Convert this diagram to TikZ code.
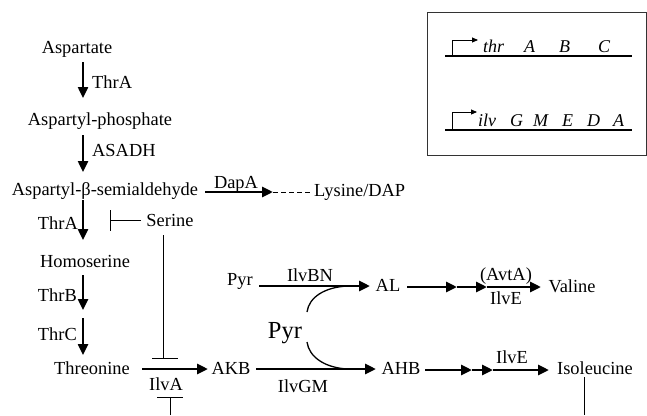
\documentclass[tikz,border=0pt]{standalone}
\usepackage{fontspec}
\setmainfont{Liberation Serif}
\usetikzlibrary{arrows.meta}
\begin{document}
\begin{tikzpicture}[x=1pt,y=-1pt,
  txt/.style={inner sep=0pt, font=\fontsize{18.4}{22}\selectfont, anchor=base},
  gene/.style={inner sep=0pt, font=\fontsize{18}{22}\selectfont\itshape, anchor=base west},
  bigtxt/.style={inner sep=0pt, font=\fontsize{24.5}{28}\selectfont, anchor=base},
  varrow/.style={line width=2.4pt, -{Triangle[length=11pt,width=10pt]}},
  harrow/.style={line width=2.8pt, -{Triangle[length=11pt,width=10pt]}},
  inhib/.style={line width=0.9pt},
  dna/.style={line width=2.6pt},
  prom/.style={line width=0.9pt, -{Triangle[length=6pt,width=5pt]}},
  curve/.style={line width=1.3pt}]
\useasboundingbox (0,0) rectangle (647,415);

% main pathway text
\node[txt] (asp) at (77,53) {Aspartate};
\node[txt] (asph) at (100,125) {Aspartyl-phosphate};
\node[txt] (asa) at (105,195) {Aspartyl-β-semialdehyde};
\node[txt] (hom) at (85,267) {Homoserine};
\node[txt] (thr) at (92,374) {Threonine};
\node[txt] (ser) at (170,226) {Serine};
\node[txt] (akb) at (231,374) {AKB};
\node[txt] (pyr1) at (240,285) {Pyr};
\node[txt] (al) at (388,291) {AL};
\node[bigtxt] (pyr2) at (285,338) {Pyr};
\node[txt] (ahb) at (401,374) {AHB};
\node[txt] (val) at (572,292) {Valine};
\node[txt] (ile) at (595,374) {Isoleucine};
\node[txt, anchor=base west] (lys) at (314,196) {Lysine/DAP};

% enzyme labels
\node[txt, anchor=base west] (e1) at (92,88) {ThrA};
\node[txt, anchor=base west] (e2) at (92,156) {ASADH};
\node[txt, anchor=base east] (e3) at (78,229) {ThrA};
\node[txt, anchor=base east] (e4) at (77,301) {ThrB};
\node[txt, anchor=base east] (e5) at (77,340) {ThrC};
\node[txt] (dapa) at (236,188) {DapA};
\node[txt] (ilva) at (166,390) {IlvA};
\node[txt] (ilvbn) at (310,281) {IlvBN};
\node[txt] (ilvgm) at (303,392) {IlvGM};
\node[txt] (avta) at (506,280) {(AvtA)};
\node[txt] (ilve1) at (506,304) {IlvE};
\node[txt] (ilve2) at (512,363) {IlvE};

% connector end points
\coordinate (v1a) at (83,62);  \coordinate (v1b) at (83,98);
\coordinate (v2a) at (83,135); \coordinate (v2b) at (83,172);
\coordinate (v3a) at (83,200); \coordinate (v3b) at (83,240);
\coordinate (v4a) at (83,275); \coordinate (v4b) at (83,310);
\coordinate (v5a) at (83,318); \coordinate (v5b) at (83,355);

\draw[varrow] (v1a) -- (v1b);
\draw[varrow] (v2a) -- (v2b);
\draw[varrow] (v3a) -- (v3b);
\draw[varrow] (v4a) -- (v4b);
\draw[varrow] (v5a) -- (v5b);

% DapA
\coordinate (d1) at (205,192); \coordinate (d2) at (273,192); \coordinate (d3) at (312,192);
\draw[harrow] (d1) -- (d2);
\draw[line width=1pt, dash pattern=on 5pt off 3pt] (d2) -- (d3);

% Threonine -> AKB
\coordinate (t1) at (142,369); \coordinate (t2) at (208,369);
\draw[harrow] (t1) -- (t2);

% Pyr -> AL
\coordinate (p1) at (259,286); \coordinate (p2) at (370,286);
\draw[harrow] (p1) -- (p2);
% AKB -> AHB
\coordinate (k1) at (256,369); \coordinate (k2) at (376,369);
\draw[harrow] (k1) -- (k2);

% Pyr curves
\coordinate (c1) at (307,312); \coordinate (c1e) at (348,286);
\coordinate (c2) at (307,342); \coordinate (c2e) at (348,369);
\draw[curve] (c1) .. controls (309,297) and (325,287) .. (c1e);
\draw[curve] (c2) .. controls (309,357) and (325,368) .. (c2e);

% AL -> Valine
\coordinate (a1) at (407,287); \coordinate (a2) at (457,287);
\coordinate (a3) at (487,287); \coordinate (a4) at (541,287);
\draw[harrow] (a1) -- (a2);
\draw[harrow] (a2) -- (a3);
\draw[harrow] (a3) -- (a4);

% AHB -> Isoleucine
\coordinate (b1) at (425,370); \coordinate (b2) at (472,370);
\coordinate (b3) at (493,370); \coordinate (b4) at (549,370);
\draw[harrow] (b1) -- (b2);
\draw[harrow] (b2) -- (b3);
\draw[harrow] (b3) -- (b4);

% inhibitions
\coordinate (s1) at (141,220); \coordinate (s2) at (110,220);
\draw[inhib] (s1) -- (s2) (110,210) -- (110,231);
\coordinate (s3) at (163,235); \coordinate (s4) at (163,358);
\draw[inhib] (s3) -- (s4) (152,358) -- (178,358);
\coordinate (i1) at (170,415); \coordinate (i2) at (170,397);
\draw[inhib] (i1) -- (i2) (157,397) -- (183,397);
\coordinate (l1) at (584,377); \coordinate (l2) at (584,415);
\draw[inhib] (l1) -- (l2);

% operon box
\draw[line width=1pt, draw=black!80] (427,12) rectangle (646,155);
\draw[dna] (445,56) -- (632,56);
\draw[prom] (452,56) -- (452,40) -- (478,40);
\node[gene] (g1) at (483,52) {thr};
\node[gene] (g2) at (524,52) {A};
\node[gene] (g3) at (559,52) {B};
\node[gene] (g4) at (598,52) {C};
\draw[dna] (445,130) -- (632,130);
\draw[prom] (452,130) -- (452,112) -- (477,112);
\node[gene] (h1) at (478,126) {ilv};
\node[gene] (h2) at (510,126) {G};
\node[gene] (h3) at (533,126) {M};
\node[gene] (h4) at (562,126) {E};
\node[gene] (h5) at (587,126) {D};
\node[gene] (h6) at (613,126) {A};
\end{tikzpicture}
\end{document}
